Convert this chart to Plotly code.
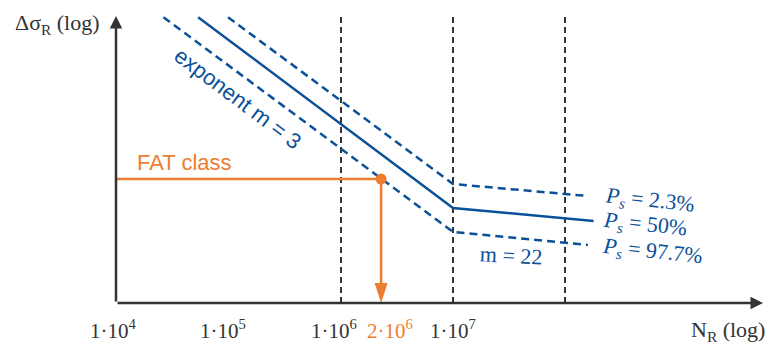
import plotly.graph_objects as go
import math

# ---- data ----
N_solid = [5.3e4, 1e7, 1.8e8]
S_solid = [444, 76.6, 67.9]
N_upper = [9.8e4, 1e7, 1.6e8]
S_upper = [444, 95.5, 85.5]
N_lower = [2.6e4, 1e7, 1.6e8]
S_lower = [444, 61.4, 54.5]
fat_N = 2.28e6
fat_S = 100
N_axis_start = 1e4
vline_N = [1e6, 1e7, 1e8]
tick_vals = [1e4, 1e5, 1e6, fat_N, 1e7]
tick_text = ["1·10<sup>4</sup>", "1·10<sup>5</sup>", "1·10<sup>6</sup>",
             "2·10<sup>6</sup>", "1·10<sup>7</sup>"]
ps_labels = ["<i>P</i><sub><i>s</i></sub> = 2.3%", "<i>P</i><sub><i>s</i></sub> = 50%",
             "<i>P</i><sub><i>s</i></sub> = 97.7%"]

BLUE = "#0b519a"
ORANGE = "#ED7D31"
DARK = "#333333"

W, H = 769, 347
ML, MR, MT, MB = 116, 6, 16, 44
PW, PH = W - ML - MR, H - MT - MB
x_range = [3.991, 3.991 + PW / 112.0]
y_range = [1.504, 2.652]
S_bot, S_top = 10 ** y_range[0], 10 ** y_range[1]

def px(x):
    return (x - ML) / PW

def py(y):
    return (H - MB - y) / PH

fig = go.Figure()

# vertical dashed guide lines
vx, vy = [], []
for n in vline_N:
    vx += [n, n, None]
    vy += [S_bot, S_top, None]
fig.add_trace(go.Scatter(x=vx, y=vy, mode="lines",
                         line=dict(color=DARK, width=2, dash="6px,4px"), hoverinfo="skip"))

# S-N curves
fig.add_trace(go.Scatter(x=N_upper, y=S_upper, mode="lines",
                         line=dict(color=BLUE, width=2.5, dash="8px,5px")))
fig.add_trace(go.Scatter(x=N_lower, y=S_lower, mode="lines",
                         line=dict(color=BLUE, width=2.5, dash="8px,5px")))
fig.add_trace(go.Scatter(x=N_solid, y=S_solid, mode="lines",
                         line=dict(color=BLUE, width=2.5)))

# FAT class line and downward arrow
fig.add_trace(go.Scatter(x=[N_axis_start, fat_N, fat_N], y=[fat_S, fat_S, S_bot * 1.05],
                         mode="lines", line=dict(color=ORANGE, width=2.5)))
fig.add_trace(go.Scatter(x=[fat_N], y=[S_bot], mode="markers",
                         marker=dict(symbol="arrow", angle=180, size=21, color=ORANGE,
                                     line=dict(width=0))))
fig.add_trace(go.Scatter(x=[fat_N], y=[fat_S], mode="markers",
                         marker=dict(color=ORANGE, size=11)))

# axes as arrows
fig.add_annotation(x=0, y=1, xref="x domain", yref="y domain",
                   ax=0, ay=0, axref="x domain", ayref="y domain",
                   showarrow=True, arrowhead=2, arrowsize=1, arrowwidth=2.5,
                   arrowcolor=DARK, text="")
fig.add_annotation(x=1, y=0, xref="x domain", yref="y domain",
                   ax=0, ay=0, axref="x domain", ayref="y domain",
                   showarrow=True, arrowhead=2, arrowsize=1, arrowwidth=2.5,
                   arrowcolor=DARK, text="")

serif = "Liberation Serif"
sans = "Liberation Sans"

# x tick labels (placed on the log axis, nudged as in the reference layout)
tick_shift = [-4, -6, -7, 9, 0]
for v, t, s in zip(tick_vals, tick_text, tick_shift):
    col = ORANGE if v == fat_N else DARK
    fig.add_annotation(x=math.log10(v), y=py(330), xref="x", yref="paper", text=t,
                       showarrow=False, xanchor="center", yanchor="middle", xshift=s,
                       font=dict(size=21, color=col, family=serif))

def label(text, x, y, size, color, family, angle=0, xanchor="center"):
    fig.add_annotation(x=px(x), y=py(y), xref="paper", yref="paper", text=text,
                       showarrow=False, textangle=angle, xanchor=xanchor, yanchor="middle",
                       font=dict(size=size, color=color, family=family))

label("Δσ<sub>R</sub> (log)", 57, 24, 22, DARK, serif)
label("N<sub>R</sub> (log)", 767, 331, 22, DARK, serif, xanchor="right")
label("exponent m = 3", 238, 98, 22, BLUE, sans, 37)
label("FAT class", 184, 162, 22, ORANGE, sans)
label(ps_labels[0], 650, 201, 22, BLUE, serif, 6)
label(ps_labels[1], 645, 225, 22, BLUE, serif, 6)
label(ps_labels[2], 652, 252, 22, BLUE, serif, 6)
label("m = 22", 511, 255, 22, BLUE, serif, 3)

fig.update_layout(
    width=W, height=H, margin=dict(l=ML, r=MR, t=MT, b=MB, autoexpand=False),
    plot_bgcolor="white", paper_bgcolor="white", showlegend=False,
    xaxis=dict(type="log", range=x_range, showgrid=False, zeroline=False, showline=False,
               showticklabels=False, ticks="", automargin=False),
    yaxis=dict(type="log", range=y_range, showgrid=False, zeroline=False, showline=False,
               showticklabels=False, ticks="", automargin=False),
)

fig.write_html("out.html", config={"displayModeBar": False},
               post_script="document.body.style.margin='0';document.body.style.overflow='hidden';")
